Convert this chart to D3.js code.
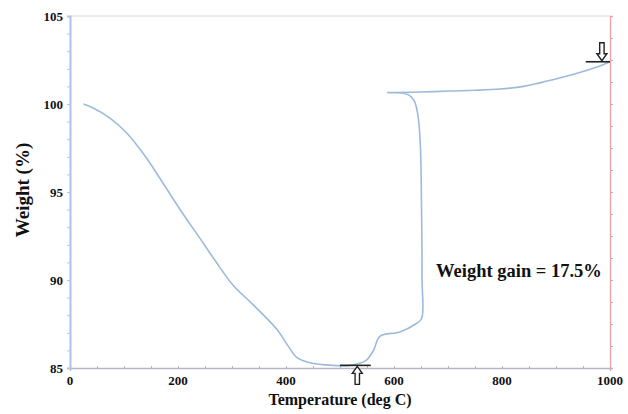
<!DOCTYPE html>
<html>
<head>
<meta charset="utf-8">
<script src="https://cdn.jsdelivr.net/npm/d3@7"></script>
<style>
  body { margin: 0; background: #fff; }
  svg { display: block; }
  text { font-family: "Liberation Serif", "Times New Roman", serif; font-weight: bold; fill: #111; }
</style>
</head>
<body>
<div id="chart"></div>
<script>
// TGA curve (temperature in deg C, weight in %)
var temps   = [25, 43, 74, 105, 140, 167, 205, 241, 270, 302, 339, 383, 405, 420, 444, 487, 518, 535, 549, 562, 574, 611, 640, 651, 652, 651, 649, 645, 638, 628, 615, 600, 587, 600, 650, 704, 750, 796, 840, 870, 910, 950, 980, 1000];
var weights = [100, 99.77, 99.2, 98.35, 97.0, 95.75, 93.95, 92.35, 91.05, 89.7, 88.6, 87.2, 86.2, 85.6, 85.3, 85.15, 85.15, 85.25, 85.45, 86.0, 86.8, 87.05, 87.5, 87.8, 90.0, 94.0, 97.5, 99.2, 100.15, 100.5, 100.62, 100.65, 100.65, 100.65, 100.68, 100.74, 100.78, 100.85, 101.0, 101.2, 101.5, 101.85, 102.15, 102.4];

var yTicks = [85, 90, 95, 100, 105];
var xTicks = [0, 200, 400, 600, 800, 1000];
var annotation = "Weight gain = 17.5%";

// markers: flat bar + hollow arrow at the minimum and the final weight
var markLines = [
  { x0: 500, x1: 557, y: 85.15, ax: 532, dir: "up" },
  { x0: 955, x1: 1000, y: 102.4, ax: 985, dir: "down" }
];

var width = 628, height = 414;
var margin = { top: 16, right: 18, bottom: 46, left: 70 };

var svg = d3.select("#chart").append("svg")
    .attr("width", width)
    .attr("height", height);

var x = d3.scaleLinear().domain([0, 1000]).range([margin.left, width - margin.right]);
var y = d3.scaleLinear().domain([85, 105]).range([height - margin.bottom, margin.top]);
// right (derivative) axis has only ticks, no labels
var y2 = d3.scaleLinear().domain([0, 16]).range([height - margin.bottom, margin.top]);

// top frame line
svg.append("line")
    .attr("x1", x(0)).attr("x2", x(1000))
    .attr("y1", y(105)).attr("y2", y(105))
    .attr("stroke", "#d8d8dc").attr("stroke-width", 1);

// bottom axis: minor ticks every 50
var xAxis = svg.append("g")
    .attr("transform", "translate(0," + y(85) + ")")
    .call(d3.axisBottom(x).tickValues(d3.range(0, 1001, 50)).tickSize(3).tickFormat(""));
xAxis.select(".domain").attr("stroke", "#b4b6c6").attr("stroke-width", 1.3);
xAxis.selectAll(".tick line").attr("stroke", "#b4b6c6").attr("transform", "translate(0,-2)");

svg.append("g").selectAll("text")
    .data(xTicks)
    .enter().append("text")
    .attr("x", function (d) { return x(d); })
    .attr("y", y(85) + 17)
    .attr("text-anchor", "middle")
    .style("font-size", "13px")
    .text(function (d) { return d; });

// left axis: minor ticks every 1
var yAxis = svg.append("g")
    .attr("transform", "translate(" + x(0) + ",0)")
    .call(d3.axisLeft(y).tickValues(d3.range(85, 105.1, 1)).tickSize(3).tickFormat(""));
yAxis.select(".domain").attr("stroke", "#a9c3e2").attr("stroke-width", 2);
yAxis.selectAll(".tick line").attr("stroke", "#b8c6da");

svg.append("g").selectAll("text")
    .data(yTicks)
    .enter().append("text")
    .attr("x", x(0) - 7)
    .attr("y", function (d) { return y(d); })
    .attr("dy", "0.35em")
    .attr("text-anchor", "end")
    .style("font-size", "13px")
    .text(function (d) { return d; });

// right axis in red
var rAxis = svg.append("g")
    .attr("transform", "translate(" + x(1000) + ",0)")
    .call(d3.axisRight(y2).tickValues(d3.range(0, 16.1, 1)).tickSize(3).tickFormat(""));
rAxis.select(".domain").attr("stroke", "#e8a2a6").attr("stroke-width", 1.3);
rAxis.selectAll(".tick line").attr("stroke", "#e8a2a6");

// the curve
var pts = temps.map(function (t, i) { return [t, weights[i]]; });
var line = d3.line()
    .x(function (d) { return x(d[0]); })
    .y(function (d) { return y(d[1]); })
    .curve(d3.curveCatmullRom.alpha(0.5));

svg.append("path")
    .datum(pts)
    .attr("fill", "none")
    .attr("stroke", "#9dbadb")
    .attr("stroke-width", 1.6)
    .attr("d", line);

// marker bars and hollow arrows
markLines.forEach(function (m) {
  svg.append("line")
      .attr("x1", x(m.x0)).attr("x2", x(m.x1))
      .attr("y1", y(m.y)).attr("y2", y(m.y))
      .attr("stroke", "#222").attr("stroke-width", 1.6);
  var cx = x(m.ax), base = y(m.y);
  var s = m.dir === "down" ? -1 : 1; // arrow tip sits on the bar
  var tip = base + s * 1, len = 18;
  var p = [
    [cx, tip],
    [cx - 5, tip + s * 7],
    [cx - 2.2, tip + s * 7],
    [cx - 2.2, tip + s * len],
    [cx + 2.2, tip + s * len],
    [cx + 2.2, tip + s * 7],
    [cx + 5, tip + s * 7]
  ];
  svg.append("path")
      .attr("d", "M" + p.join("L") + "Z")
      .attr("fill", "#fff")
      .attr("stroke", "#222")
      .attr("stroke-width", 1.4);
});

// annotation
svg.append("text")
    .attr("x", x(678))
    .attr("y", y(90.15))
    .style("font-size", "18.5px")
    .text(annotation);

// axis titles
svg.append("text")
    .attr("x", 340)
    .attr("y", 405)
    .attr("text-anchor", "middle")
    .style("font-size", "16px")
    .text("Temperature (deg C)");

svg.append("text")
    .attr("transform", "translate(29," + (y(95) - 2) + ") rotate(-90)")
    .attr("text-anchor", "middle")
    .style("font-size", "19px")
    .text("Weight (%)");
</script>
</body>
</html>
